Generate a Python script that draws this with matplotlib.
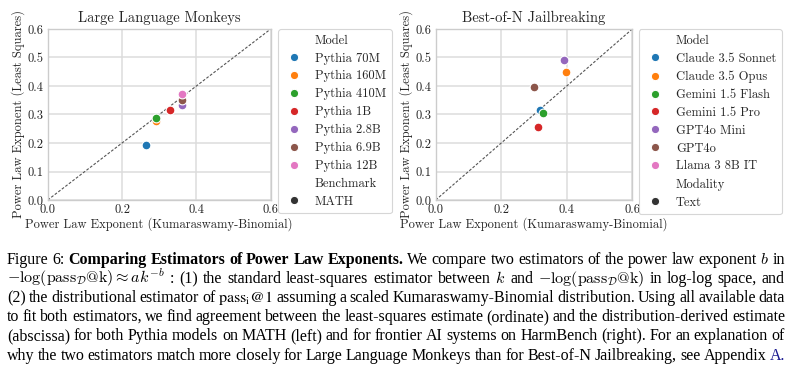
import matplotlib
matplotlib.use("Agg")
import matplotlib.pyplot as plt
from matplotlib.lines import Line2D

# ---------------- data ----------------
llm_models = ["Pythia 70M", "Pythia 160M", "Pythia 410M", "Pythia 1B",
              "Pythia 2.8B", "Pythia 6.9B", "Pythia 12B"]
llm_kb = [0.264, 0.291, 0.292, 0.329, 0.361, 0.361, 0.361]
llm_ls = [0.194, 0.278, 0.287, 0.315, 0.334, 0.350, 0.371]

bon_models = ["Claude 3.5 Sonnet", "Claude 3.5 Opus", "Gemini 1.5 Flash",
              "Gemini 1.5 Pro", "GPT4o Mini", "GPT4o", "Llama 3 8B IT"]
bon_kb = [0.318, 0.399, 0.328, 0.311, 0.391, 0.299, None]
bon_ls = [0.316, 0.450, 0.304, 0.256, 0.492, 0.395, None]

ticks = [0.0, 0.2, 0.4, 0.6]
yticks = [0.0, 0.1, 0.2, 0.3, 0.4, 0.5, 0.6]
palette = ["#1f77b4", "#ff7f0e", "#2ca02c", "#d62728", "#9467bd", "#8c564b", "#e377c2"]

# ---------------- style ----------------
plt.rcParams["font.family"] = ["cmr10", "DejaVu Serif"]
plt.rcParams["mathtext.fontset"] = "cm"
plt.rcParams["axes.formatter.use_mathtext"] = True
plt.rcParams["axes.unicode_minus"] = False

W, H = 812, 375
fig = plt.figure(figsize=(W / 100, H / 100), dpi=100)

TXT = "#262626"
GRID = "#dcdcdc"


def px(x0, y0, x1, y1):
    return [x0 / W, 1 - y1 / H, (x1 - x0) / W, (y1 - y0) / H]


def setup(ax, title):
    ax.set_xlim(0, 0.6)
    ax.set_ylim(0, 0.6)
    ax.set_xticks(ticks)
    ax.set_yticks(yticks)
    ax.set_xticklabels([f"{t:.1f}" for t in ticks])
    ax.set_yticklabels([f"{t:.1f}" for t in yticks])
    ax.grid(True, color=GRID, lw=1.1)
    ax.set_axisbelow(True)
    for s in ax.spines.values():
        s.set_color("#cccccc")
        s.set_linewidth(1.0)
    ax.tick_params(length=0, labelsize=9, colors=TXT, pad=3)
    ax.set_title(title, fontsize=10.5, color=TXT, pad=5)
    ax.set_xlabel("Power Law Exponent (Kumaraswamy-Binomial)", fontsize=9, color=TXT, labelpad=0.5)
    ax.set_ylabel("Power Law Exponent (Least Squares)", fontsize=9, color=TXT, labelpad=1.5)
    ax.plot([0, 0.6], [0, 0.6], color="#555555", lw=0.8, dashes=(2.5, 1.5), zorder=2)


def legend(ax, models, sub_title, sub_label, xpix):
    handles, labels = [], []
    handles.append(Line2D([], [], ls="", marker=""))
    labels.append("Model")
    for m, c in zip(models, palette):
        handles.append(Line2D([], [], ls="", marker="o", markersize=6,
                              markerfacecolor=c, markeredgecolor="white", markeredgewidth=0.8))
        labels.append(m)
    handles.append(Line2D([], [], ls="", marker=""))
    labels.append(sub_title)
    handles.append(Line2D([], [], ls="", marker="o", markersize=6,
                          markerfacecolor="#333333", markeredgecolor="white", markeredgewidth=0.8))
    labels.append(sub_label)
    leg = ax.legend(handles, labels, loc="upper left",
                    bbox_to_anchor=(xpix / W, 1 - 29 / H), bbox_transform=fig.transFigure,
                    borderaxespad=0, fontsize=9, frameon=True, fancybox=True,
                    labelspacing=0.46, handletextpad=0.9, handlelength=1.6,
                    borderpad=0.45)
    leg.get_frame().set_edgecolor("#cccccc")
    leg.get_frame().set_linewidth(0.8)
    leg.set_zorder(10)
    for t in leg.get_texts():
        t.set_color(TXT)
    return leg


ax1 = fig.add_axes(px(47.7, 29, 270.7, 200))
setup(ax1, "Large Language Monkeys")
for x, y, c in zip(llm_kb, llm_ls, palette):
    ax1.scatter([x], [y], s=40, color=c, edgecolor="white", linewidth=0.8, zorder=3)
legend(ax1, llm_models, "Benchmark", "MATH", 278)

ax2 = fig.add_axes(px(435.7, 29, 632.3, 200))
setup(ax2, "Best-of-N Jailbreaking")
for x, y, c in zip(bon_kb, bon_ls, palette):
    if x is None:
        continue
    ax2.scatter([x], [y], s=40, color=c, edgecolor="white", linewidth=0.8, zorder=3)
legend(ax2, bon_models, "Modality", "Text", 639)

# ---------------- caption (justified lines) ----------------
FS = 11.5
N = dict(family="Liberation Serif", fontsize=FS, color="black")
B = dict(family="Liberation Serif", fontsize=FS, color="black", weight="bold")
M = dict(family="Liberation Serif", fontsize=FS, color="black", math_fontfamily="cm")
S = dict(family="Liberation Serif", fontsize=FS, color="black", math_fontfamily="stix")
L = dict(family="Liberation Serif", fontsize=FS, color="#1a1a90")

lines = [
    [("Figure 6: ", N), ("Comparing Estimators of Power Law Exponents.", B),
     (" We compare two estimators of the power law exponent ", N), ("$b$", M), (" in", N)],
    [(r"$-\log(\mathrm{pass}_{\mathcal{D}}@\mathrm{k})\approx{}ak^{-b}$", M),
     (" : (1) the standard least-squares estimator between ", N), ("$k$", M), (" and ", N),
     (r"$-\log(\mathrm{pass}_{\mathcal{D}}@\mathrm{k})$", M), (" in log-log space, and", N)],
    [("(2) the distributional estimator of ", N), (r"$\mathrm{pass}_{\mathrm{i}}@1$", S),
     (" assuming a scaled Kumaraswamy-Binomial distribution. Using all available data", N)],
    [("to fit both estimators, we find agreement between the least-squares estimate (ordinate) and the distribution-derived estimate", N)],
    [("(abscissa) for both Pythia models on MATH (left) and for frontier AI systems on HarmBench (right). For an explanation of", N)],
    [("why the two estimators match more closely for Large Language Monkeys than for Best-of-N Jailbreaking, see Appendix ", N),
     ("A.", L)],
]
baselines = [264, 283, 302, 321, 340.5, 359.5]
X0, X1 = 7, 785

renderer = fig.canvas.get_renderer()
for segs, yb in zip(lines, baselines):
    words = [[]]
    for text, style in segs:
        parts = text.split(" ")
        for i, p in enumerate(parts):
            if i > 0 and words[-1]:
                words.append([])
            if p:
                words[-1].append((p, style))
    if not words[-1]:
        words.pop()
    objs = []
    widths = []
    for w in words:
        wo = []
        ww = 0
        for p, st in w:
            t = fig.text(0, 1 - yb / H, p, va="baseline", ha="left", **st)
            bb = t.get_window_extent(renderer)
            wo.append((t, bb.width))
            ww += bb.width
        objs.append(wo)
        widths.append(ww)
    total = sum(widths)
    gap = (X1 - X0 - total) / max(len(words) - 1, 1)
    x = X0
    for wo, ww in zip(objs, widths):
        xx = x
        for t, wd in wo:
            t.set_x(xx / W)
            xx += wd
        x += ww + gap

fig.savefig("out.png", dpi=100)
